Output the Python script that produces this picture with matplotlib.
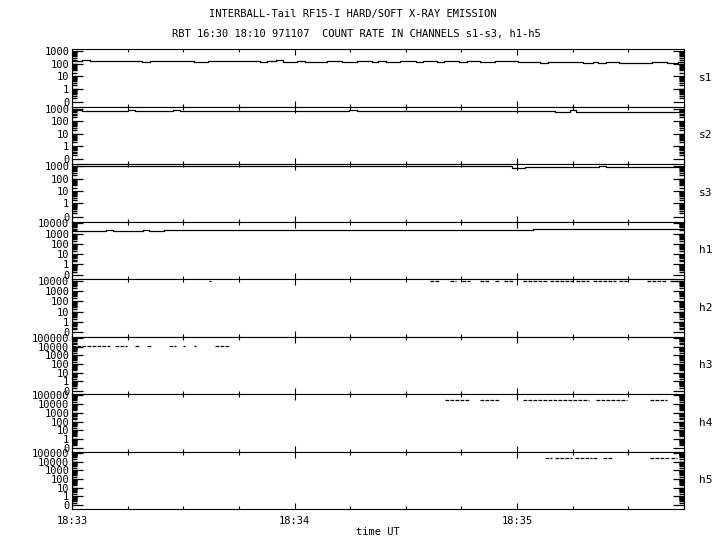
import numpy as np
import matplotlib.pyplot as plt
from matplotlib.ticker import FixedLocator, MultipleLocator, FuncFormatter, NullFormatter

plt.rcParams['font.family'] = 'DejaVu Sans Mono'
plt.rcParams['font.size'] = 7.5

title1 = 'INTERBALL-Tail RF15-I HARD/SOFT X-RAY EMISSION'
title2 = 'RBT 16:30 18:10 971107  COUNT RATE IN CHANNELS s1-s3, h1-h5'

channels = ['s1', 's2', 's3', 'h1', 'h2', 'h3', 'h4', 'h5']
top_decade = [3, 3, 3, 4, 4, 5, 5, 5]

# step channels: time in seconds after 18:33:00, count rate
s1_t = [0, 2.7, 4.8, 18.9, 21.0, 32.9, 36.6, 50.6, 52.5, 55.0, 56.8, 60.6, 62.8,
        68.7, 72.7, 76.8, 80.8, 82.4, 84.6, 88.4, 92.7, 94.6, 98.3, 100.2, 104.3,
        106.4, 109.9, 114.0, 120.2, 126.1, 128.2, 137.7, 140.4, 141.7, 144.1,
        147.6, 156.5, 160.3, 163.3, 165]
s1_v = [182, 219, 182, 152, 182, 152, 182, 152, 182, 219, 152, 182, 152,
        182, 152, 182, 152, 182, 152, 182, 152, 182, 152, 182, 152,
        182, 152, 182, 152, 127, 152, 127, 152, 127, 152,
        127, 152, 127, 152, 152]

s2_t = [0, 2.7, 15.1, 17.0, 27.2, 29.1, 74.6, 76.8, 130.1, 134.2, 136.0, 165]
s2_v = [718, 598, 718, 598, 718, 598, 718, 598, 498, 718, 498, 498]

s3_t = [0, 118.5, 122.0, 128.2, 142.2, 144.1, 165]
s3_v = [1100, 760, 914, 830, 1000, 830, 830]

h1_t = [0, 9.2, 11.0, 19.1, 20.7, 24.8, 124.2, 165]
h1_v = [1630, 2040, 1630, 2040, 1630, 2040, 2560, 2560]

# sparse channels: (start, end) of the data runs and their level
h2_start = [37.0, 96.4, 101.8, 105.1, 109.9, 114.0, 116.6, 121.5, 128.8, 136.0, 140.4, 147.6, 154.9, 161.1]
h2_end = [37.5, 99.1, 103.4, 107.2, 112.6, 115.3, 118.8, 128.0, 135.0, 139.5, 146.8, 149.5, 160.3, 163.3]
h2_level = 8500

h3_start = [0, 11.6, 17.0, 20.2, 26.1, 29.9, 33.0, 38.5]
h3_end = [10.2, 14.8, 18.3, 21.6, 28.0, 30.4, 33.4, 42.6]
h3_level = 13600

h4_start = [100.5, 109.9, 121.5, 141.4, 155.7]
h4_end = [107.2, 115.3, 139.5, 149.5, 160.3]
h4_level = 27700

h5_start = [127.4, 130.1, 135.5, 140.4, 143.1, 155.7, 161.6]
h5_end = [129.3, 134.7, 140.1, 141.7, 145.7, 161.1, 163.0]
h5_level = 25600


# log scale shifted so that zero sits about one decade below 1
def fwd(y):
    return np.log10(np.clip(y, -0.099, None) + 0.1)


def inv(u):
    return 10.0 ** u - 0.1


fig, axes = plt.subplots(8, 1, figsize=(7.2, 5.5), dpi=100, sharex=True)
fig.subplots_adjust(left=0.1, right=0.95, top=1 - 49.3 / 550, bottom=1 - 509 / 550, hspace=0)

steps = {'s1': (s1_t, s1_v), 's2': (s2_t, s2_v), 's3': (s3_t, s3_v), 'h1': (h1_t, h1_v)}
runs = {'h2': (h2_start, h2_end, h2_level), 'h3': (h3_start, h3_end, h3_level),
        'h4': (h4_start, h4_end, h4_level), 'h5': (h5_start, h5_end, h5_level)}

for ax, name, d in zip(axes, channels, top_decade):
    ax.set_yscale('function', functions=(fwd, inv))
    ax.set_ylim(inv(-1.4), inv(d + 0.15))
    majors = [0] + [10 ** k for k in range(d + 1)]
    minors = [m * 10.0 ** k for k in range(-1, d) for m in range(1 if k < 0 else 2, 10)]
    ax.yaxis.set_major_locator(FixedLocator(majors))
    ax.yaxis.set_minor_locator(FixedLocator(minors))
    ax.yaxis.set_major_formatter(FuncFormatter(lambda v, p: str(int(round(v)))))
    ax.yaxis.set_minor_formatter(NullFormatter())
    ax.tick_params(axis='y', which='both', direction='in', left=True, right=True, pad=2)
    ax.tick_params(axis='y', which='major', length=8, width=0.9)
    ax.tick_params(axis='y', which='minor', length=3.5, width=1.0)

    ax.xaxis.set_major_locator(MultipleLocator(60))
    ax.xaxis.set_minor_locator(MultipleLocator(15))
    ax.tick_params(axis='x', which='both', direction='in', top=True, bottom=True, width=0.8)
    ax.tick_params(axis='x', which='major', length=4, pad=5)
    ax.tick_params(axis='x', which='minor', length=2.5)
    for sp in ax.spines.values():
        sp.set_linewidth(0.8)

    if name in steps:
        t, v = steps[name]
        ax.plot(t, v, color='black', lw=0.9, drawstyle='steps-post')
    else:
        st, en, lev = runs[name]
        ax.hlines([lev] * len(st), st, en, colors='black', lw=0.9, linestyles=(0, (3, 1)))

    ax.text(1.025, 0.5, name, transform=ax.transAxes, va='center', ha='left', fontsize=8)

axes[-1].set_xlim(0, 165)
axes[-1].xaxis.set_major_formatter(FuncFormatter(lambda v, p: '18:%02d' % (33 + int(v // 60))))
axes[-1].set_xlabel('time UT', labelpad=1)

fig.text(0.49, 1 - 14 / 550, title1, ha='center', va='center')
fig.text(0.495, 1 - 34 / 550, title2, ha='center', va='center')

fig.savefig('out.png', dpi=100)
